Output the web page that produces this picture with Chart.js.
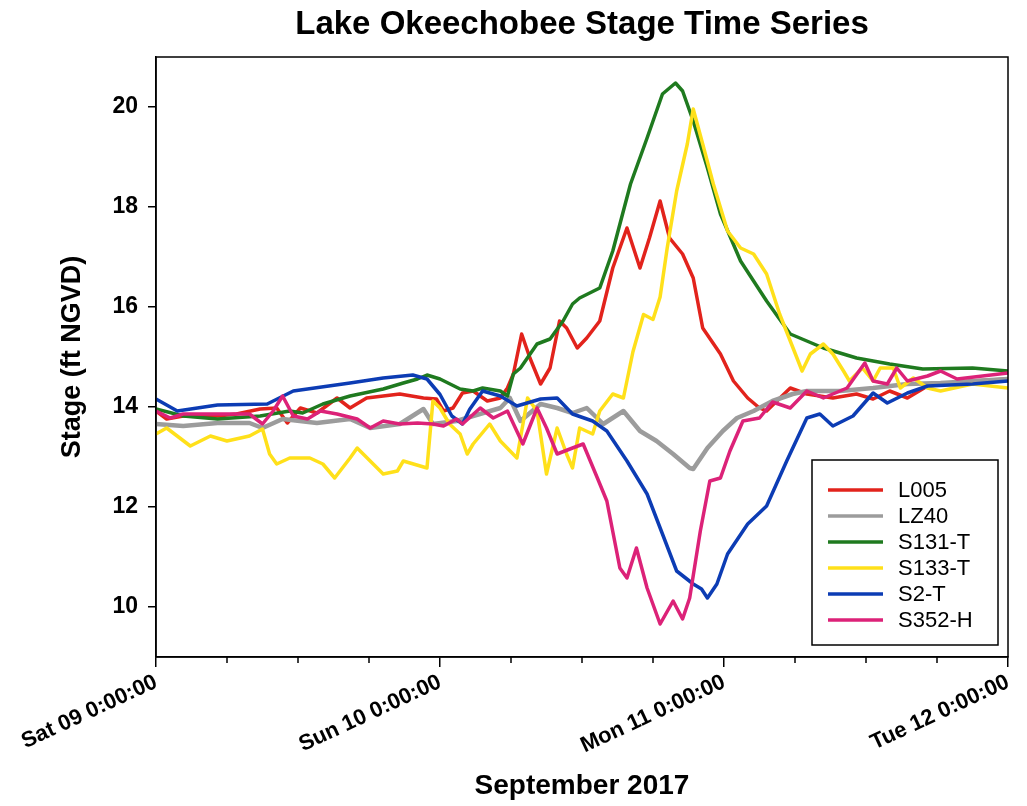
<!DOCTYPE html>
<html>
<head>
<meta charset="utf-8">
<script src="https://cdn.jsdelivr.net/npm/chart.js@4.4.1/dist/chart.umd.min.js"></script>
<style>
html,body{margin:0;padding:0;background:#fff;}
#wrap{width:1027px;height:806px;position:relative;}
</style>
</head>
<body>
<div id="wrap"><canvas id="c" width="1027" height="806"></canvas></div>
<script>
// ---- Data (hours since Sat 09 Sep 2017 0:00, stage in ft NGVD) ----
const seriesNames = ['L005', 'LZ40', 'S131-T', 'S133-T', 'S2-T', 'S352-H'];
const seriesColors = ['#e2231c', '#9c9c9c', '#1f7a1f', '#ffe01a', '#0c3cb4', '#dc2278'];

const l005Hours = [0,0.9,2.3,5.2,6.8,8.8,10.2,11.1,12.2,13.6,15.3,16.4,17.8,19.2,20.6,22.6,23.7,24.3,25.1,25.9,26.8,28.0,29.1,29.7,30.2,30.9,31.6,32.5,33.3,34.1,34.7,35.6,36.4,37.5,38.6,39.8,40.9,41.7,42.6,43.4,44.5,45.4,46.2,47.7,48.8,50.0,51.0,51.6,53.6,55.0,57.2,59.2,60.6,62.0,63.5,65.2,69.0,72];
const l005Stage = [13.92,13.76,13.82,13.82,13.86,13.96,13.98,13.68,13.98,13.88,14.18,13.98,14.18,14.22,14.26,14.18,14.16,13.92,13.98,14.28,14.32,14.12,14.18,14.38,14.66,15.46,14.98,14.46,14.78,15.72,15.58,15.18,15.38,15.72,16.78,17.58,16.78,17.38,18.12,17.38,17.06,16.58,15.58,15.06,14.52,14.18,13.98,13.92,14.38,14.26,14.18,14.26,14.16,14.32,14.18,14.42,14.52,14.56];

const lz40Hours = [0,2.3,5.2,7.9,9.0,10.7,13.6,16.4,18.1,20.6,22.6,23.4,25.4,26.8,29.1,29.9,30.8,32.5,33.9,35.2,36.4,37.8,39.5,40.9,42.3,43.7,45.1,45.4,46.6,47.9,49.1,50.5,52.1,53.8,55.0,57.8,60.6,63.5,66.3,72];
const lz40Stage = [13.66,13.62,13.68,13.68,13.58,13.76,13.68,13.76,13.58,13.66,13.96,13.66,13.72,13.82,13.98,14.18,13.72,14.06,13.98,13.88,13.98,13.66,13.92,13.52,13.32,13.06,12.78,12.76,13.18,13.52,13.78,13.92,14.12,14.26,14.32,14.32,14.38,14.46,14.48,14.56];

const s131Hours = [0,2.3,5.2,8.8,11.3,12.4,14.1,16.4,19.2,20.9,22.1,22.9,24.0,25.7,26.8,27.6,29.1,29.7,30.2,30.8,32.2,33.3,34.4,35.2,35.8,37.5,38.6,40.1,41.5,42.8,43.9,44.5,45.4,46.6,47.7,49.4,51.6,53.6,56.4,59.2,62.0,64.8,69.0,72];
const s131Stage = [13.96,13.82,13.76,13.82,13.92,13.88,14.06,14.22,14.36,14.48,14.56,14.64,14.56,14.36,14.32,14.38,14.32,14.22,14.66,14.78,15.26,15.36,15.72,16.06,16.18,16.38,17.12,18.46,19.38,20.26,20.48,20.32,19.72,18.78,17.86,16.92,16.12,15.46,15.18,14.98,14.86,14.76,14.78,14.72];

const s133Hours = [0,0.9,2.9,4.6,6.0,7.9,9.0,9.6,10.2,11.3,13.0,14.1,15.1,16.4,17.0,18.1,19.2,20.4,20.9,22.9,23.2,23.4,24.0,24.8,25.7,26.3,26.8,28.2,29.1,30.5,31.4,32.2,33.0,33.9,34.7,35.2,35.8,36.9,37.5,38.6,39.5,40.3,41.2,42.0,42.6,43.2,44.0,44.9,45.4,46.2,47.1,48.3,49.4,50.5,51.6,52.7,53.6,54.6,55.3,56.4,57.2,58.1,58.6,59.7,60.6,61.2,62.3,62.9,64.0,65.2,66.3,69.0,72];
const s133Stage = [13.46,13.58,13.22,13.42,13.32,13.42,13.56,13.06,12.86,12.98,12.98,12.86,12.58,12.98,13.18,12.92,12.66,12.72,12.92,12.78,13.58,14.12,13.98,13.66,13.46,13.06,13.26,13.66,13.32,12.98,14.18,13.92,12.66,13.58,13.06,12.78,13.58,13.46,13.92,14.26,14.18,15.1,15.85,15.75,16.2,17.18,18.32,19.26,19.96,19.26,18.46,17.52,17.18,17.06,16.66,15.86,15.32,14.72,15.06,15.26,15.06,14.72,14.52,14.78,14.52,14.78,14.78,14.38,14.58,14.38,14.32,14.46,14.38];

const s2Hours = [0,1.8,5.2,9.4,11.6,16.4,19.2,21.7,22.9,24.0,25.0,25.9,26.5,27.6,29.1,30.5,32.5,33.9,35.2,36.9,38.1,39.8,41.5,42.8,44.0,45.4,46.1,46.6,47.4,48.3,50.0,51.6,53.3,55.0,56.1,57.2,58.9,60.6,61.8,63.5,65.2,69.0,72];
const s2Stage = [14.16,13.92,14.04,14.06,14.32,14.48,14.58,14.64,14.56,14.25,13.82,13.66,13.95,14.32,14.22,14.02,14.16,14.18,13.86,13.72,13.52,12.92,12.26,11.46,10.72,10.46,10.36,10.18,10.46,11.06,11.66,12.02,12.92,13.78,13.86,13.62,13.82,14.28,14.08,14.28,14.42,14.46,14.52];

const s352Hours = [0,1.2,2.3,5.2,7.9,9.0,9.9,10.7,11.6,12.8,13.9,15.3,17.0,18.1,19.2,20.6,22.1,23.4,24.3,25.4,25.9,27.4,28.5,29.7,31.0,32.2,33.0,33.9,35.2,36.1,37.3,38.1,39.2,39.8,40.6,41.5,42.6,43.7,44.5,45.1,46.0,46.8,47.7,48.5,49.6,51.0,52.1,53.6,55.0,56.4,58.4,59.9,60.6,61.8,62.6,63.5,65.2,66.3,67.7,72];
const s352Stage = [13.92,13.78,13.86,13.86,13.86,13.66,13.92,14.22,13.82,13.76,13.92,13.86,13.76,13.58,13.72,13.66,13.68,13.66,13.62,13.76,13.66,13.98,13.78,13.92,13.26,13.98,13.58,13.06,13.18,13.26,12.58,12.12,10.78,10.58,11.18,10.38,9.66,10.12,9.76,10.18,11.52,12.52,12.58,13.12,13.72,13.78,14.1,13.98,14.32,14.18,14.38,14.88,14.52,14.46,14.78,14.52,14.62,14.72,14.56,14.68];

const xTickHours = [0,6,12,18,24,30,36,42,48,54,60,66,72];
const xMajorHours = [0,24,48,72];
const xMajorLabels = ['Sat 09 0:00:00','Sun 10 0:00:00','Mon 11 0:00:00','Tue 12 0:00:00'];
const yTickValues = [10,12,14,16,18,20];

// ---- Build chart ----
const hoursList = [l005Hours, lz40Hours, s131Hours, s133Hours, s2Hours, s352Hours];
const stageList = [l005Stage, lz40Stage, s131Stage, s133Stage, s2Stage, s352Stage];
const FONT = '"Liberation Sans", Arial, Helvetica, sans-serif';
Chart.defaults.font.family = FONT;
Chart.defaults.color = '#000';

const datasets = seriesNames.map((name, i) => {
  const hrs = hoursList[i], st = stageList[i];
  const n = Math.min(hrs.length, st.length);
  const pts = [];
  for (let k = 0; k < n; k++) pts.push({x: hrs[k], y: st[k]});
  return {
    label: name,
    data: pts,
    borderColor: seriesColors[i],
    backgroundColor: seriesColors[i],
    borderWidth: i === 1 ? 4.5 : 3.5,
    borderJoinStyle: 'round',
    pointRadius: 0,
    tension: 0,
    fill: false,
    order: seriesNames.length - 1 - i
  };
});

const framePlugin = {
  id: 'frame',
  afterDraw(chart) {
    const {ctx, chartArea: a} = chart;
    const xs = chart.scales.x;
    ctx.save();
    ctx.strokeStyle = '#000';
    ctx.lineWidth = 1.5;
    ctx.strokeRect(a.left, a.top, a.right - a.left, a.bottom - a.top);
    // minor x ticks
    xTickHours.forEach(h => {
      if (xMajorHours.indexOf(h) >= 0) return;
      const px = xs.getPixelForValue(h);
      ctx.beginPath();
      ctx.moveTo(px, a.bottom);
      ctx.lineTo(px, a.bottom + 6);
      ctx.stroke();
    });
    // legend box
    const w = 186, hgt = 185;
    const left = a.right - 10 - w, top = a.bottom - 12 - hgt;
    ctx.fillStyle = '#fff';
    ctx.fillRect(left, top, w, hgt);
    ctx.strokeStyle = '#000';
    ctx.lineWidth = 1.5;
    ctx.strokeRect(left, top, w, hgt);
    ctx.font = '22px ' + FONT;
    ctx.textBaseline = 'middle';
    ctx.textAlign = 'left';
    chart.data.datasets.forEach((ds, i) => {
      const y = top + 30 + i * 26;
      ctx.strokeStyle = ds.borderColor;
      ctx.lineWidth = 3.5;
      ctx.beginPath();
      ctx.moveTo(left + 16, y);
      ctx.lineTo(left + 71, y);
      ctx.stroke();
      ctx.fillStyle = '#000';
      ctx.fillText(ds.label, left + 86, y + 1);
    });
    ctx.restore();
  }
};

new Chart(document.getElementById('c'), {
  type: 'line',
  data: { datasets },
  options: {
    responsive: false,
    animation: false,
    layout: { padding: { left: 0, right: 19, top: 0, bottom: 0 } },
    plugins: {
      legend: { display: false },
      tooltip: { enabled: false },
      title: {
        display: true,
        text: 'Lake Okeechobee Stage Time Series',
        fullSize: false,
        font: { size: 33, weight: 'bold' },
        color: '#000',
        padding: { top: 5, bottom: 12.4 }
      }
    },
    scales: {
      x: {
        type: 'linear',
        min: 0, max: 72,
        afterBuildTicks: s => { s.ticks = xTickHours.map(v => ({value: v})); },
        afterFit: s => { s.height = 149; },
        grid: {
          drawOnChartArea: false,
          drawTicks: true,
          tickLength: 10,
          lineWidth: 1.5,
          color: c => (c.tick && xMajorHours.indexOf(c.tick.value) >= 0) ? '#000' : 'rgba(0,0,0,0)'
        },
        border: { display: true, color: '#000', width: 1.5 },
        ticks: {
          autoSkip: false,
          minRotation: 25, maxRotation: 25,
          padding: 2,
          font: { size: 22, weight: 'bold' },
          color: '#000',
          callback: v => { const i = xMajorHours.indexOf(v); return i >= 0 ? xMajorLabels[i] : ''; }
        },
        title: {
          display: true,
          text: 'September 2017',
          font: { size: 28, weight: 'bold' },
          color: '#000',
          padding: { top: 0, bottom: 3 }
        }
      },
      y: {
        type: 'linear',
        min: 9, max: 21,
        afterBuildTicks: s => { s.ticks = yTickValues.map(v => ({value: v})); },
        afterFit: s => { s.width = 156; },
        grid: {
          drawOnChartArea: false,
          drawTicks: true,
          tickLength: 8,
          lineWidth: 1.5,
          color: '#000'
        },
        border: { display: true, color: '#000', width: 1.5 },
        ticks: {
          padding: 10,
          font: { size: 23, weight: 'bold' },
          color: '#000'
        },
        title: {
          display: true,
          text: 'Stage (ft NGVD)',
          font: { size: 27, weight: 'bold' },
          color: '#000',
          padding: { top: 56, bottom: 0 }
        }
      }
    }
  },
  plugins: [framePlugin]
});
</script>
</body>
</html>
